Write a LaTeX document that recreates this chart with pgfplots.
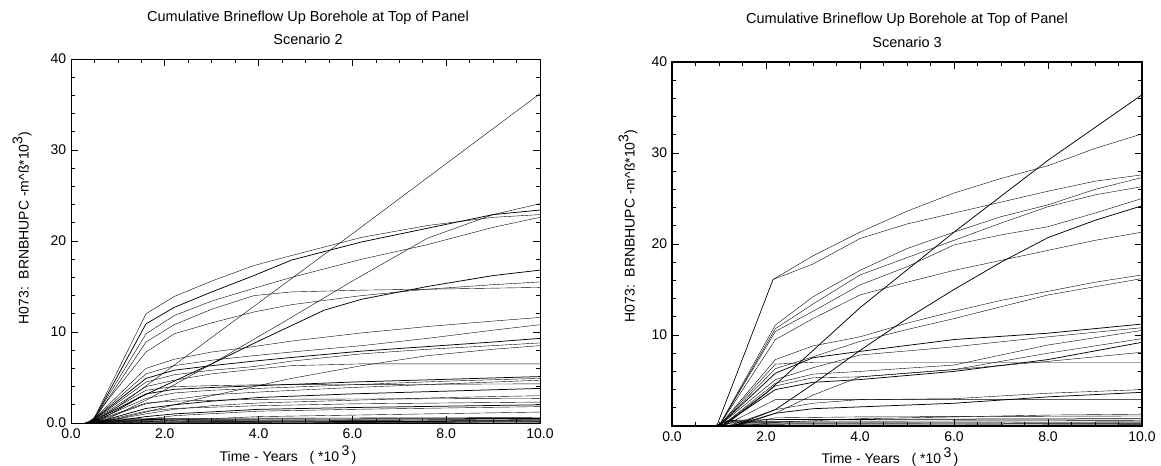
\documentclass[border=0pt]{standalone}
\usepackage{fontspec}
\setmainfont{Liberation Sans}
\usepackage{pgfplots}
\pgfplotsset{compat=1.18}
\pgfplotsset{
  brine/.style={
    scale only axis, height=364bp,
    xmin=0, xmax=10, ymin=0, ymax=40,
    xtick={0,2,4,6,8,10}, minor x tick num=3,
    ytick={0,10,20,30,40}, minor y tick num=4,
    tick align=inside, major tick length=7bp, minor tick length=4bp,
    xtick pos=both, ytick pos=both, xticklabel pos=lower, yticklabel pos=left,
    tick style={black, line width=0.7bp},
    every tick label/.append style={font=\fontsize{14bp}{16bp}\selectfont},
    /pgf/number format/assume math mode=true,
    xticklabel style={yshift=-1bp},
    cycle list={{black, solid, line width=0.75bp, mark=none}},
  }
}
\begin{document}
\fontsize{14bp}{16bp}\selectfont
\begin{tikzpicture}[x=1bp,y=1bp]
\path[use as bounding box] (0,0) rectangle (1161,466);
% ---------------- Left panel: Scenario 2
\begin{axis}[brine, at={(71bp,43bp)}, anchor=south west, width=469bp,
  axis line style={line width=0.9bp},
  xticklabels={0.0,2.0,4.0,\raisebox{-3bp}{6.0},8.0,10.0},
  yticklabels={0.0,10,20,30,40}]
\addplot coordinates {(0.45,0)(1,1.8)(2,5.6)(4,13.2)(6,20.8)(8,28.5)(10,36.2)};
\addplot coordinates {(0.35,0)(0.5,0.6)(1.6,12.0)(2.2,13.9)(3,15.6)(3.9,17.3)(4.7,18.4)(6.2,20.4)(7.6,21.7)(9,22.6)(10,22.9)};
\addplot coordinates {(0.35,0)(0.5,0.5)(1.6,10.9)(2.2,12.7)(3,14.4)(3.9,16.2)(4.7,17.9)(6.2,19.9)(7.6,21.4)(9,22.9)(10,23.4)};
\addplot coordinates {(0.6,0)(1.6,2.5)(2.2,4.2)(3,6.5)(4,9.5)(4.6,11.3)(6,15.6)(7.6,20.3)(9,22.9)(10,24.1)};
\addplot coordinates {(0.35,0)(0.5,0.5)(1.6,9.8)(2.2,11.8)(3,13.4)(3.9,14.8)(4.7,16.0)(6.2,18.0)(7.6,19.6)(9,21.5)(10,22.6)};
\addplot coordinates {(0.35,0)(0.5,0.4)(1.6,8.9)(2.2,10.8)(3,12.5)(3.9,14.0)(4.7,14.4)(6.2,14.6)(7.6,14.7)(10,14.9)};
\addplot coordinates {(0.5,0)(1.5,2.9)(2.2,4.6)(3,6.5)(4,9.0)(5.4,12.4)(6.2,13.6)(7.6,15.0)(9,16.2)(10,16.8)};
\addplot coordinates {(0.4,0)(1.6,7.8)(2.2,9.8)(3,11.0)(3.9,12.2)(4.7,13.0)(6.2,14.0)(7.6,14.7)(9,15.2)(10,15.5)};
\addplot coordinates {(0.4,0)(1.6,6.0)(2.2,7.0)(3,7.8)(3.9,8.4)(4.7,9.0)(6.2,9.9)(7.6,10.6)(9,11.2)(10,11.6)};
\addplot coordinates {(0.4,0)(1.6,5.4)(2.2,6.3)(3,6.9)(3.9,7.4)(4.7,7.8)(6.2,8.5)(7.6,9.3)(9,10.2)(10,10.8)};
\addplot coordinates {(0.4,0)(1.6,4.9)(2.2,5.8)(3,6.3)(3.9,6.8)(4.7,7.2)(6.2,7.9)(7.6,8.4)(9,8.9)(10,9.3)};
\addplot coordinates {(0.4,0)(1.6,4.5)(2.2,5.3)(3,5.8)(3.9,6.2)(4.7,6.8)(6.2,7.6)(7.6,8.1)(9,8.5)(10,8.8)};
\addplot coordinates {(0.6,0)(1.6,1.2)(2.2,2.0)(3,3.0)(3.9,4.0)(4.7,4.9)(6.2,6.3)(7.6,7.4)(9,8.1)(10,8.5)};
\addplot coordinates {(0.4,0)(1.6,4.0)(2.2,4.7)(3,5.4)(3.9,5.9)(4.7,6.3)(6.2,6.5)(10,6.5)};
\addplot coordinates {(0.4,0)(1.6,3.2)(2.2,3.7)(3,3.9)(4,4.1)(6,4.5)(8,4.8)(10,5.1)};
\addplot coordinates {(0.4,0)(1.6,2.7)(2.2,3.3)(3,3.6)(4,3.8)(6,4.2)(8,4.6)(10,4.9)};
\addplot coordinates {(0.45,0)(1.6,2.1)(2.2,2.6)(3,3.1)(4,3.4)(6,3.9)(8,4.3)(10,4.7)};
\addplot coordinates {(0.4,0)(1.6,3.6)(2.2,4.0)(3,4.1)(4,4.2)(10,4.3)};
\addplot coordinates {(0.5,0)(1.6,1.6)(2.2,2.0)(3,2.4)(4,2.8)(6,3.2)(8,3.5)(10,3.8)};
\addplot coordinates {(0.5,0)(1.6,1.0)(2.2,1.5)(3,1.9)(4,2.2)(6,2.5)(8,2.8)(10,3.0)};
\addplot coordinates {(0.4,0)(1.6,2.2)(2.2,2.4)(4,2.6)(10,2.7)};
\addplot coordinates {(0.5,0)(1.6,1.3)(2.2,1.6)(4,1.9)(6,2.1)(10,2.3)};
\addplot coordinates {(0.6,0)(1.6,0.7)(2.2,1.0)(4,1.5)(6,1.7)(10,2.0)};
\addplot coordinates {(0.8,0)(1.6,0.4)(2.2,0.8)(4,1.3)(6,1.5)(10,1.8)};
\addplot coordinates {(1.0,0)(2.2,0.3)(4,0.7)(10,1.2)};
\addplot coordinates {(0.3,0)(0.5,0.4)(1.6,0.5)(10,0.6)};
\addplot coordinates {(0.3,0)(0.5,0.3)(2,0.4)(10,0.5)};
\addplot coordinates {(0.35,0)(0.6,0.25)(10,0.4)};
\addplot coordinates {(0.4,0)(0.7,0.2)(10,0.3)};
\addplot coordinates {(0.3,0)(0.5,0.15)(10,0.25)};
\addplot coordinates {(0.35,0)(1,0.1)(10,0.2)};
\addplot coordinates {(0.4,0)(10,0.12)};
\addplot coordinates {(0.5,0)(10,0.06)};
\end{axis}
% ---------------- Right panel: Scenario 3
\begin{axis}[brine, at={(672bp,40bp)}, anchor=south west, width=470bp,
  axis line style={line width=1.6bp},
  xticklabels={0.0,2.0,4.0,6.0,8.0,10.0},
  yticklabels={,10,20,30,40}]
\addplot coordinates {(0.95,0)(2.15,16.1)(3,18.7)(4,21.3)(5,23.6)(6,25.6)(7,27.2)(8,28.6)(9,30.5)(10,32.1)};
\addplot coordinates {(0.95,0)(2.15,16.1)(3,17.8)(4,20.6)(5,22.2)(6,23.4)(7,24.6)(8,25.8)(9,26.9)(10,27.6)};
\addplot coordinates {(1.1,0)(2,3.6)(4,13.0)(6,21.3)(8,29.2)(10,36.4)};
\addplot coordinates {(1.0,0)(2.2,11.1)(3,14.2)(4,17.1)(5,19.5)(6,21.3)(7,23.0)(8,24.3)(9,26.0)(10,27.3)};
\addplot coordinates {(1.0,0)(2.2,10.7)(3,13.4)(4,16.6)(5,18.5)(6,20.4)(7,22.3)(8,24.1)(9,25.4)(10,26.3)};
\addplot coordinates {(1.0,0)(2.2,10.4)(3,12.6)(4,15.5)(5,17.5)(6,19.9)(7,21.0)(8,21.9)(9,23.4)(10,25.0)};
\addplot coordinates {(1.3,0)(2.2,1.8)(3,4.6)(4,8.3)(5,11.8)(6,15.0)(7,18.0)(8,20.7)(9,22.6)(10,24.2)};
\addplot coordinates {(1.0,0)(2.2,9.5)(3,11.8)(4,14.4)(5,15.8)(6,17.1)(7,18.2)(8,19.3)(9,20.4)(10,21.3)};
\addplot coordinates {(1.0,0)(2.2,7.3)(3,8.8)(4,9.8)(5,11.3)(6,12.6)(7,13.8)(8,14.8)(9,15.8)(10,16.6)};
\addplot coordinates {(1.0,0)(2.2,6.3)(3,7.6)(4,9.3)(5,10.6)(6,11.8)(7,13.1)(8,14.4)(9,15.3)(10,16.2)};
\addplot coordinates {(1.0,0)(2.2,5.8)(3,7.5)(4,8.2)(6,9.5)(8,10.2)(10,11.2)};
\addplot coordinates {(1.0,0)(2.2,5.1)(3,6.4)(4,7.8)(6,8.7)(8,9.8)(10,10.8)};
\addplot coordinates {(1.05,0)(2.2,4.7)(3,5.7)(4,6.0)(6,6.7)(8,8.9)(10,10.5)};
\addplot coordinates {(1.4,0)(2.2,1.4)(3,3.4)(4,5.4)(6,6.2)(8,8.0)(10,9.6)};
\addplot coordinates {(1.05,0)(2.2,4.0)(3,4.8)(4,5.1)(6,6.0)(8,7.3)(10,9.2)};
\addplot coordinates {(1.05,0)(2.2,4.4)(3,5.3)(4,5.4)(6,6.2)(8,7.1)(10,8.1)};
\addplot coordinates {(1.0,0)(2.2,6.8)(3,7.0)(10,7.0)};
\addplot coordinates {(1.2,0)(2.2,1.8)(3,2.5)(4,2.9)(6,3.0)(8,3.6)(10,4.0)};
\addplot coordinates {(1.3,0)(2.2,1.4)(3,1.9)(4,2.1)(6,2.5)(8,3.2)(10,3.7)};
\addplot coordinates {(1.5,0)(2.2,0.4)(4,0.8)(6,1.0)(8,1.2)(10,1.3)};
\addplot coordinates {(1.1,0)(2.2,2.9)(10,2.9)};
\addplot coordinates {(1.2,0)(2.2,0.9)(4,1.0)(10,1.1)};
\addplot coordinates {(0.9,0)(1.2,0.6)(2.2,0.7)(10,0.8)};
\addplot coordinates {(0.9,0)(1.2,0.5)(10,0.6)};
\addplot coordinates {(0.95,0)(1.3,0.4)(10,0.45)};
\addplot coordinates {(0.9,0)(1.2,0.3)(10,0.35)};
\addplot coordinates {(1.0,0)(1.5,0.2)(10,0.25)};
\addplot coordinates {(1.0,0)(10,0.15)};
\addplot coordinates {(1.1,0)(10,0.08)};
\end{axis}
% ---------------- Titles and labels
\node[font=\fontsize{14.5bp}{16bp}\selectfont] at (308,448) {Cumulative Brineflow Up Borehole at Top of Panel};
\node[font=\fontsize{14.5bp}{16bp}\selectfont] at (308,427) {Scenario 2};
\node[font=\fontsize{14.5bp}{16bp}\selectfont] at (907,446) {Cumulative Brineflow Up Borehole at Top of Panel};
\node[font=\fontsize{14.5bp}{16bp}\selectfont] at (907,424) {Scenario 3};
\node[rotate=90] at (22,238) {H073:\ \ BRNBHUPC -m\textasciicircum ß*10\raisebox{0.45em}{3})};
\node[rotate=90] at (628,240) {H073:\ \ BRNBHUPC -m\textasciicircum ß*10\raisebox{0.45em}{3})};
\node at (288,11) {Time - Years\ \ \ ( *10\,\raisebox{0.45em}{3}\,)};
\node at (890,9) {Time - Years\ \ \ ( *10\,\raisebox{0.45em}{3}\,)};
\end{tikzpicture}
\end{document}
